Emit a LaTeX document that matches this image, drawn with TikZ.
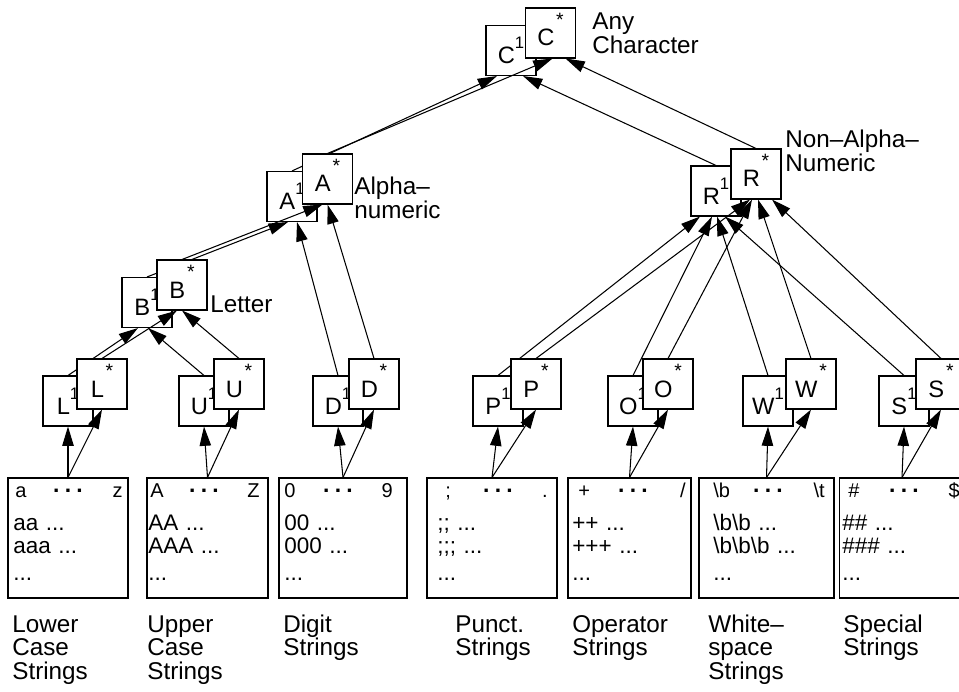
\documentclass[tikz,border=0pt]{standalone}
\usepackage{fontspec}
\setmainfont{Liberation Sans}
\usetikzlibrary{arrows.meta,calc}
\pgfdeclarelayer{back}
\pgfdeclarelayer{mid}
\pgfsetlayers{back,mid,main}

% letter with its level mark
\newcommand{\lvlone}[1]{#1\raisebox{8.5pt}{\fontsize{9.5pt}{9.5pt}\selectfont 1}}
\newcommand{\lvlall}[1]{#1\kern1pt\raisebox{11pt}{\fontsize{11pt}{11pt}\selectfont *}}
\newcommand{\dotrow}{\raisebox{2.5pt}{\fontsize{13pt}{13pt}\selectfont\bfseries .\hspace{3pt}.\hspace{3pt}.}}

\begin{document}
\begin{tikzpicture}[x=0.02cm, y=-0.02cm,
        lvlbox/.style={draw, fill=white, line width=0.6pt, minimum size=1cm, inner sep=0pt,
            text height=14.8pt, text depth=0pt, font=\fontsize{13.5pt}{14pt}\selectfont},
        strbox/.style={draw, line width=0.6pt, minimum height=2.4cm, inner sep=0pt},
        toprow/.style={anchor=base, inner sep=0pt, font=\fontsize{11.4pt}{13pt}\selectfont},
        rowtext/.style={anchor=base west, inner sep=0pt, text width=2.2cm, align=left,
            font=\fontsize{12.8pt}{13.1pt}\selectfont},
        caption/.style={anchor=base west, inner sep=0pt, text width=3cm, align=left,
            font=\fontsize{13.8pt}{13.6pt}\selectfont},
        gen/.style={-{Triangle[length=11pt,width=6.5pt]}, line width=0.6pt}]

        \useasboundingbox (0,0) rectangle (959,692);
        \clip (0,0) rectangle (959,692);

        % string boxes
        \node[strbox, minimum width=2.4cm] (lower) at (68,538) {};
        \node[strbox, minimum width=2.42cm] (upper) at (207.5,538) {};
        \node[strbox, minimum width=2.56cm] (digit) at (343,538) {};
        \node[strbox, minimum width=2.6cm] (punct) at (492,538) {};
        \node[strbox, minimum width=2.46cm] (oper) at (629.5,538) {};
        \node[strbox, minimum width=2.7cm] (white) at (766.5,538) {};
        \node[strbox, minimum width=2.52cm] (special) at (902,538) {};

        % single characters
        \node[toprow, anchor=base west] (lower-a) at (15,497) {a};
        \node[toprow] (lower-dots) at (68,497) {\dotrow};
        \node[toprow, anchor=base east] (lower-z) at (123,497) {z};
        \node[toprow, anchor=base west] (upper-a) at (150,497) {A};
        \node[toprow] (upper-dots) at (204,497) {\dotrow};
        \node[toprow, anchor=base east] (upper-z) at (260,497) {Z};
        \node[toprow, anchor=base west] (digit-0) at (284,497) {0};
        \node[toprow] (digit-dots) at (338,497) {\dotrow};
        \node[toprow, anchor=base east] (digit-9) at (393,497) {9};
        \node[toprow, anchor=base west] (punct-a) at (445,497) {;};
        \node[toprow] (punct-dots) at (498,497) {\dotrow};
        \node[toprow, anchor=base east] (punct-z) at (548,497) {.};
        \node[toprow, anchor=base west] (oper-a) at (578,497) {+};
        \node[toprow] (oper-dots) at (633,497) {\dotrow};
        \node[toprow, anchor=base east] (oper-z) at (686,497) {/};
        \node[toprow, anchor=base west] (white-a) at (713,497) {\textbackslash b};
        \node[toprow] (white-dots) at (768,497) {\dotrow};
        \node[toprow, anchor=base east] (white-z) at (825,497) {\textbackslash t};
        \node[toprow, anchor=base west] (special-a) at (848,497) {\#};
        \node[toprow] (special-dots) at (904,497) {\dotrow};
        \node[toprow, anchor=base east] (special-z) at (960,497) {\$};

        % longer strings
        \node[rowtext] (lower-rows) at (13,530) {aa ...\\aaa ...\\[2.3pt]...};
        \node[rowtext] (upper-rows) at (148,530) {AA ...\\AAA ...\\[2.3pt]...};
        \node[rowtext] (digit-rows) at (284,530) {00 ...\\000 ...\\[2.3pt]...};
        \node[rowtext] (punct-rows) at (437,530) {;; ...\\;;; ...\\[2.3pt]...};
        \node[rowtext] (oper-rows) at (572,530) {++ ...\\+++ ...\\[2.3pt]...};
        \node[rowtext] (white-rows) at (713,530) {\textbackslash b\textbackslash b ...\\\textbackslash b\textbackslash b\textbackslash b ...\\[2.3pt]...};
        \node[rowtext] (special-rows) at (842,530) {\#\# ...\\\#\#\# ...\\[2.3pt]...};

        % level-1 boxes (behind the arrows)
        \begin{pgfonlayer}{back}
        \node[lvlbox] (C1) at (511,50.5) {\lvlone{C}};
        \node[lvlbox] (A1) at (292,196.5) {\lvlone{A}};
        \node[lvlbox] (R1) at (716,191) {\lvlone{R}};
        \node[lvlbox] (B1) at (147,302.5) {\lvlone{B}};
        \node[lvlbox] (L1) at (68,401) {\lvlone{L}};
        \node[lvlbox] (U1) at (204,401) {\lvlone{U}};
        \node[lvlbox] (D1) at (338,401) {\lvlone{D}};
        \node[lvlbox] (P1) at (498,401) {\lvlone{P}};
        \node[lvlbox] (O1) at (633,401) {\lvlone{O}};
        \node[lvlbox] (W1) at (768,401) {\lvlone{W}};
        \node[lvlbox] (S1) at (904,401) {\lvlone{S}};
        \end{pgfonlayer}

        % level-* boxes (in front of the arrows)
        \node[lvlbox] (Cs) at (550.5,33) {\lvlall{C}};
        \node[lvlbox] (As) at (327.5,179) {\lvlall{A}};
        \node[lvlbox] (Rs) at (756,174) {\lvlall{R}};
        \node[lvlbox] (Bs) at (182,285) {\lvlall{B}};
        \node[lvlbox] (Ls) at (102,384) {\lvlall{L}};
        \node[lvlbox] (Us) at (239,384) {\lvlall{U}};
        \node[lvlbox] (Ds) at (374,384) {\lvlall{D}};
        \node[lvlbox] (Ps) at (536,384) {\lvlall{P}};
        \node[lvlbox] (Os) at (668,384) {\lvlall{O}};
        \node[lvlbox] (Ws) at (811,384) {\lvlall{W}};
        \node[lvlbox] (Ss) at (941,384) {\lvlall{S}};

        \begin{pgfonlayer}{mid}
        % strings to classes
        \draw[gen] (lower.north) -- (L1.south);
        \draw[gen] (lower.north) -- (Ls.south);
        \draw[gen] (upper.north) -- (U1.south);
        \draw[gen] (upper.north) -- (Us.south);
        \draw[gen] (digit.north) -- (D1.south);
        \draw[gen] (digit.north) -- (Ds.south);
        \draw[gen] (punct.north) -- (P1.south);
        \draw[gen] (punct.north) -- (Ps.south);
        \draw[gen] (oper.north) -- (O1.south);
        \draw[gen] (oper.north) -- (Os.south);
        \draw[gen] (white.north) -- (W1.south);
        \draw[gen] (white.north) -- (Ws.south);
        \draw[gen] (special.north) -- (S1.south);
        \draw[gen] (special.north) -- (Ss.south);

        % classes to letter and alpha-numeric
        \draw[gen] (L1.north) -- ($(B1.south)+(-9,0)$);
        \draw[gen] (Ls.north) -- ($(Bs.south)+(-5,0)$);
        \draw[gen] (U1.north) -- ($(B1.south)+(1,0)$);
        \draw[gen] (Us.north) -- (Bs.south);
        \draw[gen] (B1.north) -- ($(A1.south)+(-4,0)$);
        \draw[gen] (Bs.north) -- ($(As.south)+(-5,0)$);
        \draw[gen] (D1.north) -- ($(A1.south)+(5,0)$);
        \draw[gen] (Ds.north) -- (As.south);

        % classes to non-alpha-numeric
        \draw[gen] (P1.north) -- ($(R1.south)+(-16,0)$);
        \draw[gen] (Ps.north) -- ($(Rs.south)+(-6,0)$);
        \draw[gen] (O1.north) -- ($(R1.south)+(-4,0)$);
        \draw[gen] (Os.north) -- ($(Rs.south)+(-4,0)$);
        \draw[gen] (W1.north) -- ($(R1.south)+(1,0)$);
        \draw[gen] (Ws.north) -- ($(Rs.south)+(2,0)$);
        \draw[gen] (S1.north) -- ($(R1.south)+(9,0)$);
        \draw[gen] (Ss.north) -- ($(Rs.south)+(16,0)$);

        % up to any character
        \draw[gen] (A1.north) -- ($(C1.south)+(-14,0)$);
        \draw[gen] (As.north) -- ($(Cs.south)+(2,0)$);
        \draw[gen] (R1.north) -- ($(C1.south)+(12,0)$);
        \draw[gen] (Rs.north) -- ($(Cs.south)+(15,0)$);
        \end{pgfonlayer}

        % class names
        \node[caption] (any-lbl) at (592,30) {Any\\Character};
        \node[caption] (alnum-lbl) at (354,195) {Alpha–\\numeric};
        \node[caption] (nonal-lbl) at (785,148) {Non–Alpha–\\Numeric};
        \node[caption] (letter-lbl) at (210,313) {Letter};
        \node[caption] (lower-lbl) at (12,632) {Lower\\Case\\Strings};
        \node[caption] (upper-lbl) at (147,632) {Upper\\Case\\Strings};
        \node[caption] (digit-lbl) at (283,632) {Digit\\Strings};
        \node[caption] (punct-lbl) at (455,632) {Punct.\\Strings};
        \node[caption] (oper-lbl) at (572,632) {Operator\\Strings};
        \node[caption] (white-lbl) at (708,632) {White–\\space\\Strings};
        \node[caption] (special-lbl) at (843,632) {Special\\Strings};
    \end{tikzpicture}
\end{document}
